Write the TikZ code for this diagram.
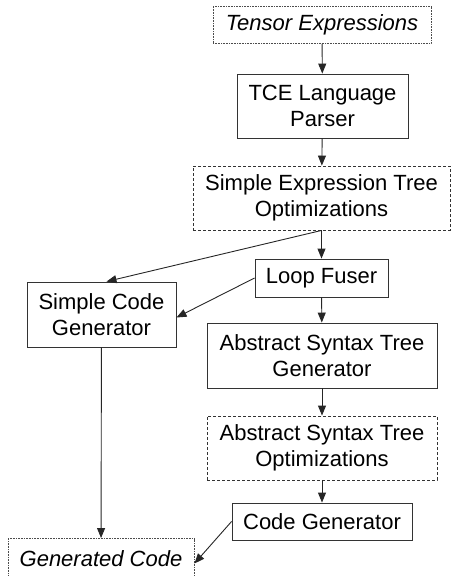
\documentclass[tikz,border=0pt]{standalone}
\usepackage{fontspec}
\setmainfont{Liberation Sans}
\usetikzlibrary{arrows.meta}
\begin{document}
\begin{tikzpicture}[x=1pt,y=-1pt,
  every node/.style={font=\fontsize{22}{26}\selectfont, align=center, inner sep=0pt},
  box/.style={draw=black!80, line width=0.9pt},
  dashbox/.style={draw=black!80, line width=0.9pt, dash pattern=on 3pt off 2pt},
  dotbox/.style={draw=black!70, line width=0.9pt, dash pattern=on 0.8pt off 0.8pt},
  conn/.style={draw=black!85, line width=0.9pt, -{Triangle[length=10pt,width=8pt]}}]
\useasboundingbox (0,0) rectangle (451,576);
\node[dotbox, minimum width=218pt, minimum height=37pt] (te) at (322,25) {\itshape Tensor Expressions};
\node[box, minimum width=171pt, minimum height=64pt] (tce) at (322.5,106) {TCE Language\\Parser};
\node[dashbox, minimum width=257pt, minimum height=64pt] (set) at (321.5,198) {Simple Expression Tree\\Optimizations};
\node[box, minimum width=133pt, minimum height=38pt] (lf) at (321.5,278) {Loop Fuser};
\node[box, minimum width=149pt, minimum height=65pt] (scg) at (101.5,314.5) {Simple Code\\Generator};
\node[box, minimum width=230pt, minimum height=65pt] (astg) at (322,355.5) {Abstract Syntax Tree\\Generator};
\node[dashbox, minimum width=230pt, minimum height=64pt] (asto) at (322,448) {Abstract Syntax Tree\\Optimizations};
\node[box, minimum width=180pt, minimum height=37pt] (cg) at (322,521.5) {Code Generator};
\node[dotbox, minimum width=186pt, minimum height=40pt] (gc) at (101,558.5) {\itshape Generated Code};
\draw[conn] (te) -- (tce);
\draw[conn] (tce) -- (set);
\draw[conn] (set) -- (lf);
\draw[conn] (set.south) -- ([xshift=5pt]scg.north);
\draw[conn] (lf.west) -- ([yshift=-3pt]scg.east);
\draw[conn] (lf) -- (astg);
\draw[conn] (astg) -- (asto);
\draw[conn] (asto) -- (cg);
\draw[conn] (scg) -- (gc);
\draw[conn] (cg.west) -- ([yshift=-5pt]gc.east);
\end{tikzpicture}
\end{document}
